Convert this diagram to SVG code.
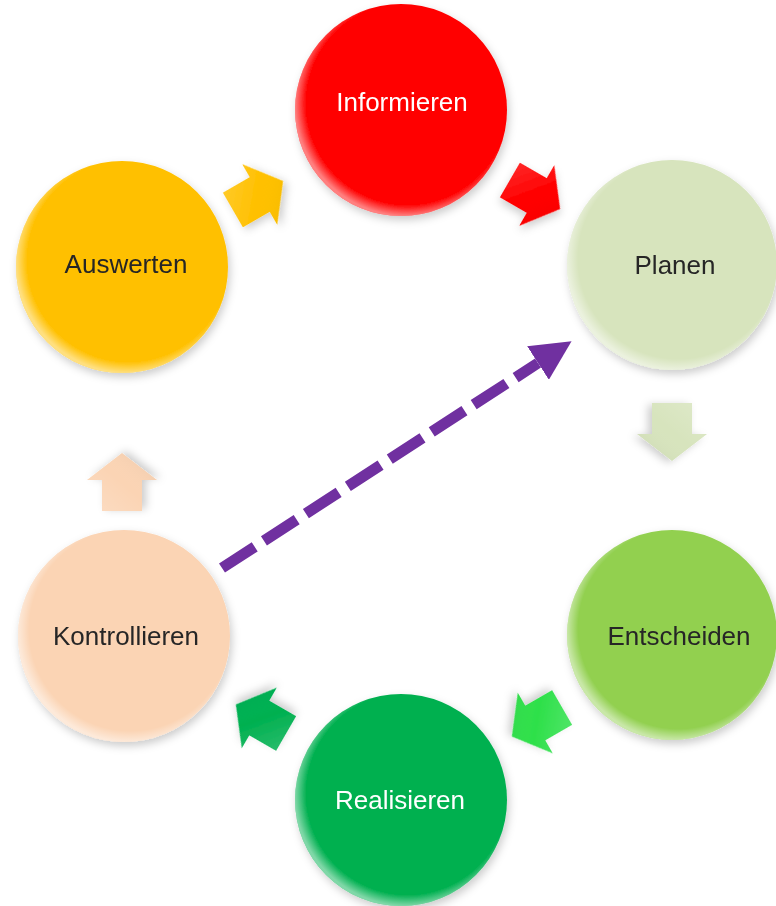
<svg xmlns="http://www.w3.org/2000/svg" width="776" height="906" viewBox="0 0 776 906">
<defs>
<filter id="sh" x="-20%" y="-20%" width="140%" height="140%">
<feDropShadow dx="2" dy="4" stdDeviation="4" flood-color="#000" flood-opacity="0.2"/>
</filter>
<radialGradient id="gloss" cx="0.53" cy="0.47" r="0.53">
<stop offset="0.9" stop-color="#fff" stop-opacity="0"/>
<stop offset="1" stop-color="#fff" stop-opacity="0.5"/>
</radialGradient>
<linearGradient id="bev" x1="0" y1="0" x2="1" y2="1">
<stop offset="0" stop-color="#fff" stop-opacity="0.2"/>
<stop offset="0.5" stop-color="#fff" stop-opacity="0"/>
<stop offset="1" stop-color="#000" stop-opacity="0.08"/>
</linearGradient>
<marker id="ah" markerUnits="userSpaceOnUse" markerWidth="40" markerHeight="40" refX="0" refY="18" orient="auto" viewBox="0 0 36 36">
<path d="M0,0 L36,18 L0,36 z" fill="#7030A0"/>
</marker>
<path id="blk" d="M-29,-20 L2,-20 L2,-35 L29,0 L2,35 L2,20 L-29,20 z"/>
</defs>
<style>
.lbl{font-family:"Liberation Sans",Arial,sans-serif;font-size:26px;text-anchor:middle;dominant-baseline:central}
.dk{fill:#262626}
.wh{fill:#ffffff}
.rim{fill:url(#gloss)}
.arr{filter:url(#sh)}
</style>
<rect width="776" height="906" fill="#ffffff"/>
<g id="connectors">
<g class="arr" transform="translate(258,195.5) rotate(-30)"><use href="#blk" fill="#FFC000"/><use href="#blk" fill="url(#bev)"/></g>
<g class="arr" transform="translate(535,194.5) rotate(30)"><use href="#blk" fill="#FF0000"/><use href="#blk" fill="url(#bev)"/></g>
<g class="arr" transform="translate(672,432) rotate(90)"><use href="#blk" fill="#D7E4BD"/><use href="#blk" fill="url(#bev)"/></g>
<g class="arr" transform="translate(537,722) rotate(150)"><use href="#blk" fill="#2EE04A"/><use href="#blk" fill="url(#bev)"/></g>
<g class="arr" transform="translate(261,719) rotate(210)"><use href="#blk" fill="#00B050"/><use href="#blk" fill="url(#bev)"/></g>
<g class="arr" transform="translate(122,482) rotate(-90)"><use href="#blk" fill="#FBD4B4"/><use href="#blk" fill="url(#bev)"/></g>
<line x1="222" y1="568" x2="538" y2="363" stroke="#7030A0" stroke-width="11" stroke-dasharray="39 11" marker-end="url(#ah)"/>
</g>
<g id="informieren" filter="url(#sh)">
<circle cx="401" cy="110" r="106" fill="#FF0000"/>
<circle cx="401" cy="110" r="106" class="rim"/>
<text class="lbl wh" x="402" y="102">Informieren</text>
</g>
<g id="planen" filter="url(#sh)">
<circle cx="672" cy="265" r="105" fill="#D7E4BD"/>
<circle cx="672" cy="265" r="105" class="rim"/>
<text class="lbl dk" x="675" y="265">Planen</text>
</g>
<g id="entscheiden" filter="url(#sh)">
<circle cx="672" cy="635" r="105" fill="#92D050"/>
<circle cx="672" cy="635" r="105" class="rim"/>
<text class="lbl dk" x="679" y="636">Entscheiden</text>
</g>
<g id="realisieren" filter="url(#sh)">
<circle cx="401" cy="800" r="106" fill="#00B050"/>
<circle cx="401" cy="800" r="106" class="rim"/>
<text class="lbl wh" x="400" y="800">Realisieren</text>
</g>
<g id="kontrollieren" filter="url(#sh)">
<circle cx="124" cy="636" r="106" fill="#FBD4B4"/>
<circle cx="124" cy="636" r="106" class="rim"/>
<text class="lbl dk" x="126" y="636">Kontrollieren</text>
</g>
<g id="auswerten" filter="url(#sh)">
<circle cx="122" cy="267" r="106" fill="#FFC000"/>
<circle cx="122" cy="267" r="106" class="rim"/>
<text class="lbl dk" x="126" y="264">Auswerten</text>
</g>
</svg>
